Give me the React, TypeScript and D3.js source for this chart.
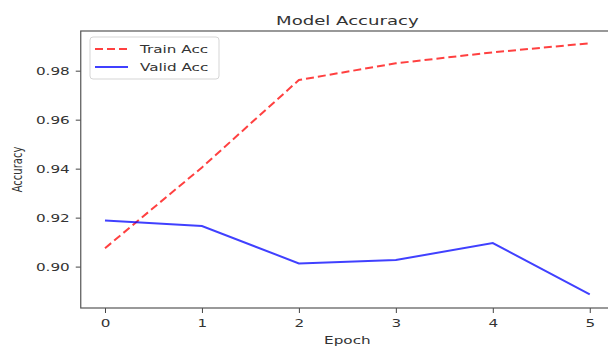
import React, { useEffect, useRef } from 'react';
import * as d3 from "d3";

// data
const epochs = [0, 1, 2, 3, 4, 5];
const trainAcc = [0.9075, 0.9405, 0.9762, 0.9830, 0.9875, 0.9912];
const validAcc = [0.9188, 0.9166, 0.9013, 0.9027, 0.9096, 0.8887];
const yTicks = [0.90, 0.92, 0.94, 0.96, 0.98];
const seriesNames = ["Train Acc", "Valid Acc"];

const App = () => {
    const [width, height] = [608, 351];
    const ref = useRef<SVGSVGElement>(null);
    // the original picture was stretched sideways, so text gets squeezed the same way
    const stretch = 1.45;
    const font = "'DejaVu Sans', sans-serif";
    const textColor = "#333";

    useEffect(() => {
        const svg = d3.select(ref.current);
        svg.selectAll("*").remove();

        const plot = { left: 80.75, right: 614, top: 31, bottom: 308 };

        const xScale = d3.scaleLinear()
            .domain([-0.25, 5.25])
            .range([plot.left, plot.right]);

        const yScale = d3.scaleLinear()
            .domain([0.8831, 0.9962])
            .range([plot.bottom, plot.top]);

        // x axis
        const xAxis = svg.append("g")
            .attr("transform", `translate(0, ${plot.bottom})`)
            .call(d3.axisBottom(xScale).tickValues(epochs).tickSize(5).tickPadding(4).tickFormat(d3.format("d")));
        xAxis.select(".domain").remove();
        xAxis.selectAll(".tick line").attr("stroke", "#444");
        xAxis.selectAll(".tick text")
            .attr("y", null)
            .attr("dy", null)
            .attr("transform", `translate(0, 19) scale(${stretch}, 1)`)
            .style("font-family", font)
            .style("font-size", "10.5px")
            .attr("fill", textColor);

        // y axis
        const yAxis = svg.append("g")
            .attr("transform", `translate(${plot.left}, 0)`)
            .call(d3.axisLeft(yScale).tickValues(yTicks).tickSize(5).tickFormat(d3.format(".2f")));
        yAxis.select(".domain").remove();
        yAxis.selectAll(".tick line").attr("stroke", "#444");
        yAxis.selectAll(".tick text")
            .attr("x", null)
            .attr("dy", "0.36em")
            .attr("transform", `translate(-11, 0) scale(${stretch}, 1)`)
            .style("font-family", font)
            .style("font-size", "10.5px")
            .attr("fill", textColor);

        // spines
        svg.append("rect")
            .attr("x", plot.left)
            .attr("y", plot.top)
            .attr("width", plot.right - plot.left)
            .attr("height", plot.bottom - plot.top)
            .attr("fill", "none")
            .attr("stroke", "#555")
            .attr("stroke-width", 1.2);

        const line = d3.line<number>()
            .x((d, i) => xScale(epochs[i]))
            .y((d) => yScale(d));

        svg.append("path")
            .datum(trainAcc)
            .attr("d", line)
            .attr("fill", "none")
            .attr("stroke", "rgba(255, 0, 0, 0.75)")
            .attr("stroke-width", 2)
            .attr("stroke-dasharray", "8,4");

        svg.append("path")
            .datum(validAcc)
            .attr("d", line)
            .attr("fill", "none")
            .attr("stroke", "rgba(0, 0, 255, 0.75)")
            .attr("stroke-width", 2);

        // title and labels
        svg.append("text")
            .attr("transform", `translate(${(plot.left + plot.right) / 2}, 25) scale(${stretch}, 1)`)
            .attr("text-anchor", "middle")
            .style("font-family", font)
            .style("font-size", "12.5px")
            .attr("fill", textColor)
            .text("Model Accuracy");

        svg.append("text")
            .attr("transform", `translate(${(plot.left + plot.right) / 2}, 344) scale(${stretch}, 1)`)
            .attr("text-anchor", "middle")
            .style("font-family", font)
            .style("font-size", "10.5px")
            .attr("fill", textColor)
            .text("Epoch");

        svg.append("text")
            .attr("transform", `translate(22, ${(plot.top + plot.bottom) / 2}) scale(${stretch}, 1) rotate(-90)`)
            .attr("text-anchor", "middle")
            .style("font-family", font)
            .style("font-size", "10px")
            .attr("fill", textColor)
            .text("Accuracy");

        // legend
        const legend = svg.append("g").attr("transform", "translate(90, 37)");
        legend.append("rect")
            .attr("width", 129)
            .attr("height", 42)
            .attr("rx", 3)
            .attr("fill", "rgba(255,255,255,0.8)")
            .attr("stroke", "#d5d5d5");

        const styles = [
            { stroke: "rgba(255, 0, 0, 0.75)", dash: "8,4" },
            { stroke: "rgba(0, 0, 255, 0.75)", dash: null },
        ];
        seriesNames.forEach((name, i) => {
            const y = 12 + i * 18;
            legend.append("line")
                .attr("x1", 5)
                .attr("x2", 38)
                .attr("y1", y)
                .attr("y2", y)
                .attr("stroke", styles[i].stroke)
                .attr("stroke-width", 2)
                .attr("stroke-dasharray", styles[i].dash);
            legend.append("text")
                .attr("transform", `translate(50, ${y}) scale(${stretch}, 1)`)
                .attr("dy", "0.36em")
                .style("font-family", font)
                .style("font-size", "10.5px")
                .attr("fill", textColor)
                .text(name);
        });
    }, []);

    return (
        <svg
            ref={ref}
            width={width}
            height={height}
            style={{ position: "absolute", left: 0, top: 0, background: "#fff" }}
        ></svg>
    );
};

export default App;
